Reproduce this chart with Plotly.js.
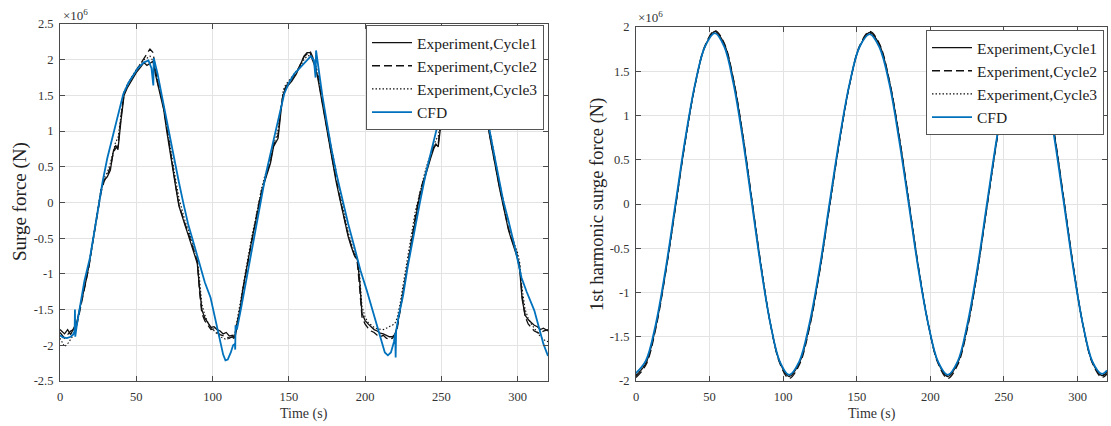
<!DOCTYPE html>
<html>
<head>
<meta charset="utf-8">
<script src="https://cdn.plot.ly/plotly-3.0.1.min.js"></script>
<style>html,body{margin:0;padding:0;background:#fff;}#chart{width:1111px;height:426px;}</style>
</head>
<body>
<div id="chart"></div>
<script>
// ---------- Left panel: surge force (x1e6 N) ----------
const expTime = [
  0,3,5,7,9,11,13,15,17,19,
  21,23,25,27,29,31,33,35,36.5,38,
  40,42,44,47,50,53,55,57,59,61,
  62.5,64,66,68,70,72,74,76,78,80,
  82,84,86,88,90,91.5,93,95,97,99,
  101,103,105,107,109,111,113,114.5,116,118,
  120,122,124,126,128,130,132,134,136,138,
  140,141.5,143,145,146.5,148,150,152,155,158,
  160,162,164,165.5,167,169,171,173,175,177,
  179,181,183,185,187,189,191,193,195,196.5,
  198,200,202,204,206,208,210,212,214,216,
  218,219.5,221,223,225,227,229,231,233,235,
  237,239,241,243,245,246.5,248,250,252,254,
  257,260,263,266,268,270,272,274,276,278,
  280,282,284,286,288,290,292,294,296,298,
  300,301.5,303,305,307,309,311,313,315,317,
  320
];
const expCycle1 = [
  -1.78,-1.84,-1.78,-1.85,-1.76,-1.68,-1.48,-1.3,-1.1,-0.88,
  -0.6,-0.35,-0.08,0.18,0.32,0.36,0.45,0.72,0.8,0.74,
  1.15,1.5,1.6,1.72,1.82,1.9,1.96,1.92,1.95,1.98,
  1.8,1.65,1.5,1.3,1.0,0.72,0.45,0.2,-0.05,-0.2,
  -0.32,-0.45,-0.58,-0.7,-0.85,-1.2,-1.5,-1.62,-1.68,-1.75,
  -1.74,-1.78,-1.8,-1.84,-1.82,-1.87,-1.86,-1.9,-1.7,-1.5,
  -1.2,-0.95,-0.7,-0.5,-0.3,-0.08,0.12,0.28,0.4,0.55,
  0.78,0.85,0.9,1.3,1.52,1.6,1.65,1.7,1.8,1.95,
  2.05,2.1,2.1,2.0,1.92,1.75,1.5,1.25,1.0,0.78,
  0.55,0.3,0.1,-0.1,-0.3,-0.48,-0.62,-0.74,-0.8,-1.1,
  -1.55,-1.65,-1.7,-1.74,-1.78,-1.8,-1.83,-1.84,-1.86,-1.88,
  -1.88,-1.85,-1.75,-1.5,-1.22,-0.95,-0.7,-0.45,-0.22,0.0,
  0.18,0.33,0.5,0.62,0.75,0.82,0.78,1.15,1.5,1.6,
  1.72,1.82,1.9,1.98,2.05,2.0,1.85,1.6,1.45,1.3,
  1.15,0.9,0.65,0.45,0.22,0.02,-0.2,-0.38,-0.52,-0.65,
  -0.78,-0.95,-1.35,-1.58,-1.64,-1.68,-1.72,-1.74,-1.78,-1.76,
  -1.8
];
const expCycle2 = [
  -1.82,-1.9,-1.85,-1.8,-1.78,-1.72,-1.52,-1.32,-1.12,-0.9,
  -0.62,-0.38,-0.1,0.15,0.3,0.38,0.5,0.7,0.76,0.78,
  1.2,1.52,1.62,1.75,1.85,1.95,2.02,2.08,2.15,2.1,
  1.85,1.68,1.52,1.32,1.05,0.75,0.48,0.22,-0.03,-0.18,
  -0.3,-0.42,-0.55,-0.68,-0.82,-1.25,-1.55,-1.66,-1.72,-1.78,
  -1.77,-1.82,-1.85,-1.86,-1.88,-1.9,-1.88,-1.92,-1.75,-1.52,
  -1.22,-0.98,-0.72,-0.5,-0.28,-0.05,0.15,0.3,0.42,0.58,
  0.8,0.88,0.95,1.35,1.55,1.62,1.68,1.72,1.82,1.95,
  2.04,2.08,2.12,2.05,1.95,1.78,1.52,1.28,1.02,0.8,
  0.56,0.32,0.12,-0.08,-0.28,-0.46,-0.6,-0.72,-0.85,-1.2,
  -1.6,-1.7,-1.76,-1.8,-1.82,-1.86,-1.88,-1.86,-1.9,-1.92,
  -1.9,-1.86,-1.78,-1.52,-1.25,-0.98,-0.72,-0.46,-0.2,0.03,
  0.22,0.36,0.52,0.64,0.78,0.8,0.82,1.2,1.52,1.62,
  1.75,1.85,1.95,2.05,2.1,2.05,1.88,1.62,1.48,1.32,
  1.18,0.92,0.68,0.46,0.24,0.04,-0.18,-0.36,-0.5,-0.62,
  -0.75,-0.9,-1.3,-1.6,-1.7,-1.75,-1.8,-1.82,-1.84,-1.8,
  -1.78
];
const expCycle3 = [
  -1.9,-2.02,-1.98,-1.92,-1.85,-1.7,-1.5,-1.28,-1.08,-0.85,
  -0.58,-0.32,-0.05,0.2,0.35,0.42,0.55,0.75,0.85,0.9,
  1.25,1.55,1.65,1.76,1.86,1.95,2.0,2.02,2.05,1.98,
  1.85,1.7,1.55,1.36,1.08,0.8,0.55,0.3,0.06,-0.12,
  -0.26,-0.38,-0.5,-0.62,-0.76,-1.08,-1.42,-1.58,-1.68,-1.75,
  -1.8,-1.84,-1.88,-1.9,-1.92,-1.9,-1.88,-1.85,-1.68,-1.45,
  -1.18,-0.92,-0.66,-0.45,-0.25,-0.02,0.18,0.35,0.48,0.62,
  0.82,0.9,1.02,1.38,1.58,1.65,1.7,1.75,1.84,1.92,
  2.0,2.05,2.06,2.02,1.98,1.82,1.6,1.35,1.1,0.88,
  0.64,0.4,0.18,-0.02,-0.22,-0.42,-0.58,-0.7,-0.78,-1.02,
  -1.45,-1.6,-1.68,-1.72,-1.75,-1.77,-1.78,-1.78,-1.76,-1.74,
  -1.72,-1.7,-1.62,-1.42,-1.15,-0.88,-0.6,-0.35,-0.12,0.05,
  0.24,0.4,0.55,0.68,0.8,0.88,0.92,1.25,1.55,1.65,
  1.76,1.86,1.94,2.0,2.04,2.02,1.9,1.72,1.55,1.4,
  1.25,1.0,0.75,0.52,0.3,0.1,-0.1,-0.3,-0.45,-0.58,
  -0.7,-0.85,-1.2,-1.5,-1.62,-1.7,-1.76,-1.82,-1.88,-1.92,
  -1.95
];
const cfdTime = [
  0,2,4.5,7,8.5,9.6,9.8,10.0,11,13,
  16,19.7,22,25,28,31,35,38,41.5,45,
  48,51,54.8,58,60,61.2,61.5,64,67,70.5,
  74.6,78,81,84,87,90,92,95,98.7,101,
  103,105,107,108.5,110,112,113.5,114.7,114.9,115.1,
  116,119,122,125,128,131.6,135,140,144,147,
  150,153.5,157,161,164.5,166.5,167.6,167.9,170,172,
  175,178,181.5,185.5,189,193,197,201,205,208,
  211,213,215,217,219,219.8,220.1,220.4,222,225,
  228,231,236,240,245,250,253,256,260,264,
  268,270,271,271.3,274,277,280,284,287,290.6,
  294,298,302.6,306,311,314,317,320
];
const cfdForce = [
  -1.86,-1.89,-1.9,-1.88,-1.85,-1.8,-1.5,-1.88,-1.72,-1.47,
  -1.1,-0.77,-0.48,-0.05,0.3,0.62,0.96,1.25,1.52,1.68,
  1.78,1.88,1.96,1.99,1.88,1.64,2.02,1.8,1.47,1.08,
  0.63,0.28,-0.02,-0.3,-0.52,-0.74,-0.91,-1.12,-1.33,-1.55,
  -1.75,-1.95,-2.13,-2.21,-2.2,-2.1,-2.0,-1.98,-2.06,-1.72,
  -1.78,-1.45,-1.1,-0.75,-0.4,0.0,0.4,0.87,1.25,1.52,
  1.67,1.8,1.88,1.97,2.05,1.99,1.75,2.13,1.8,1.5,
  1.12,0.75,0.38,0.0,-0.3,-0.62,-0.95,-1.22,-1.51,-1.75,
  -1.98,-2.1,-2.14,-2.1,-1.95,-1.83,-2.17,-1.8,-1.6,-1.3,
  -0.9,-0.55,0.0,0.42,0.87,1.3,1.55,1.68,1.8,1.9,
  2.0,2.02,1.75,2.1,1.75,1.45,1.2,0.75,0.42,0.03,
  -0.25,-0.6,-1.05,-1.25,-1.51,-1.75,-1.98,-2.15
];

// ---------- Right panel: 1st harmonic surge force (x1e6 N) ----------
const harmTime = [
  0,6.7,13.4,20.1,26.8,33.5,40.2,46.9,53.6,
  59.9,66.2,72.5,78.8,85.1,91.4,97.7,104,
  110.9,117.7,124.6,131.4,138.3,145.1,152,158.8,
  165.4,172.1,178.7,185.3,191.9,198.6,205.2,211.8,
  218.5,225.1,231.8,238.4,245.1,251.7,258.4,265,
  271.4,277.9,284.3,290.8,297.2,303.6,310.1,316.5,
  320
];
const harmCycle1 = [
  -1.94,-1.8,-1.39,-0.77,-0.03,0.72,1.35,1.78,1.95,
  1.81,1.4,0.78,0.03,-0.72,-1.36,-1.79,-1.95,
  -1.8,-1.39,-0.77,-0.03,0.72,1.35,1.78,1.94,
  1.8,1.39,0.77,0.03,-0.72,-1.36,-1.79,-1.95,
  -1.8,-1.39,-0.77,-0.03,0.72,1.35,1.78,1.95,
  1.81,1.4,0.78,0.03,-0.72,-1.36,-1.79,-1.94,
  -1.9
];
const harmCycle2 = [
  -1.96,-1.82,-1.41,-0.78,-0.04,0.71,1.35,1.79,1.96,
  1.82,1.41,0.79,0.04,-0.71,-1.36,-1.8,-1.97,
  -1.82,-1.41,-0.78,-0.04,0.71,1.35,1.79,1.95,
  1.81,1.4,0.78,0.04,-0.71,-1.36,-1.8,-1.97,
  -1.82,-1.41,-0.78,-0.04,0.71,1.35,1.79,1.96,
  1.82,1.41,0.79,0.04,-0.71,-1.36,-1.8,-1.96,
  -1.92
];
const harmCycle3 = [
  -1.93,-1.79,-1.38,-0.76,-0.02,0.73,1.36,1.78,1.94,
  1.8,1.39,0.77,0.02,-0.73,-1.36,-1.78,-1.94,
  -1.79,-1.38,-0.76,-0.02,0.73,1.36,1.78,1.93,
  1.79,1.38,0.76,0.02,-0.73,-1.36,-1.78,-1.94,
  -1.79,-1.38,-0.76,-0.02,0.73,1.36,1.78,1.94,
  1.8,1.39,0.77,0.02,-0.73,-1.36,-1.78,-1.93,
  -1.89
];
const harmCFD = [
  -1.91,-1.77,-1.36,-0.74,0,0.74,1.36,1.78,1.93,
  1.78,1.36,0.74,0,-0.74,-1.36,-1.78,-1.93,
  -1.78,-1.36,-0.74,0,0.74,1.36,1.78,1.92,
  1.77,1.36,0.73,0,-0.74,-1.36,-1.78,-1.93,
  -1.78,-1.36,-0.74,0,0.74,1.36,1.78,1.93,
  1.78,1.36,0.74,0,-0.74,-1.36,-1.78,-1.92,
  -1.88
];

// ---------- Ticks and labels ----------
const xTickVals = [0,50,100,150,200,250,300];
const xTickText = ['0','50','100','150','200','250','300'];
const leftYTickVals = [-2.5,-2,-1.5,-1,-0.5,0,0.5,1,1.5,2,2.5];
const leftYTickText = ['-2.5','-2','-1.5','-1','-0.5','0','0.5','1','1.5','2','2.5'];
const rightYTickVals = [-2,-1.5,-1,-0.5,0,0.5,1,1.5,2];
const rightYTickText = ['-2','-1.5','-1','-0.5','0','0.5','1','1.5','2'];
const seriesNames = ['Experiment,Cycle1','Experiment,Cycle2','Experiment,Cycle3','CFD'];

const SERIF = 'Liberation Serif, Times New Roman, serif';
const BLUE = '#0072BD';
const styles = [
  {color:'#111', width:1.3, dash:'solid'},
  {color:'#111', width:1.3, dash:'8px,4px'},
  {color:'#111', width:1.1, dash:'1.5px,2px'},
  {color:BLUE, width:1.8, dash:'solid'}
];

function mk(x, y, i, xa, ya, lg, shape) {
  return {x:x, y:y, type:'scatter', mode:'lines', name:seriesNames[i],
    xaxis:xa, yaxis:ya, legend:lg,
    line:{color:styles[i].color, width:styles[i].width, dash:styles[i].dash, shape:shape||'linear', smoothing:1}};
}

const traces = [
  mk(expTime, expCycle1, 0, 'x', 'y', 'legend'),
  mk(expTime, expCycle2, 1, 'x', 'y', 'legend'),
  mk(expTime, expCycle3, 2, 'x', 'y', 'legend'),
  mk(cfdTime, cfdForce, 3, 'x', 'y', 'legend'),
  mk(harmTime, harmCycle1, 0, 'x2', 'y2', 'legend2', 'spline'),
  mk(harmTime, harmCycle2, 1, 'x2', 'y2', 'legend2', 'spline'),
  mk(harmTime, harmCycle3, 2, 'x2', 'y2', 'legend2', 'spline'),
  mk(harmTime, harmCFD, 3, 'x2', 'y2', 'legend2', 'spline')
];

const W = 1111, H = 426;
const axBase = {
  showline:true, mirror:'ticks', linecolor:'#4a4a4a', linewidth:1,
  ticks:'inside', ticklen:5, tickcolor:'#4a4a4a', tickwidth:1,
  showgrid:true, gridcolor:'#e3e3e3', gridwidth:1, zeroline:false,
  tickfont:{family:SERIF, size:12.5, color:'#333'}, tickmode:'array',
  fixedrange:true
};
function ax(extra){ return Object.assign({}, axBase, extra); }

const legBase = {
  xanchor:'left', yanchor:'top', bgcolor:'#ffffff', bordercolor:'#555', borderwidth:1,
  font:{family:SERIF, size:15.5, color:'#222'}, tracegroupgap:0, itemwidth:40
};

const layout = {
  width:W, height:H, margin:{l:0,r:0,t:0,b:0},
  paper_bgcolor:'#fff', plot_bgcolor:'#fff', showlegend:true,
  xaxis: ax({domain:[60/W, 548/W], range:[0,320], anchor:'y', tickvals:xTickVals, ticktext:xTickText, ticklabelstandoff:4}),
  yaxis: ax({domain:[1-381/H, 1-24/H], range:[-2.5,2.5], anchor:'x', tickvals:leftYTickVals, ticktext:leftYTickText, ticklabelstandoff:3}),
  xaxis2: ax({domain:[636/W, 1107/W], range:[0,320], anchor:'y2', tickvals:xTickVals, ticktext:xTickText, ticklabelstandoff:4}),
  yaxis2: ax({domain:[1-381/H, 1-27/H], range:[-2,2], anchor:'x2', tickvals:rightYTickVals, ticktext:rightYTickText, ticklabelstandoff:3}),
  legend: Object.assign({}, legBase, {x:366/W, y:1-25/H}),
  legend2: Object.assign({}, legBase, {x:926/W, y:1-30/H}),
  annotations:[
    {xref:'paper', yref:'paper', x:61/W, y:1-15/H, xanchor:'left', yanchor:'middle', showarrow:false,
     text:'×10<sup>6</sup>', font:{family:SERIF, size:13, color:'#333'}},
    {xref:'paper', yref:'paper', x:636/W, y:1-17/H, xanchor:'left', yanchor:'middle', showarrow:false,
     text:'×10<sup>6</sup>', font:{family:SERIF, size:13, color:'#333'}},
    {xref:'paper', yref:'paper', x:20/W, y:1-202/H, xanchor:'center', yanchor:'middle', showarrow:false,
     textangle:-90, text:'Surge force (N)', font:{family:SERIF, size:19, color:'#222'}},
    {xref:'paper', yref:'paper', x:598/W, y:1-205/H, xanchor:'center', yanchor:'middle', showarrow:false,
     textangle:-90, text:'1st harmonic surge force (N)', font:{family:SERIF, size:18.5, color:'#222'}},
    {xref:'paper', yref:'paper', x:304/W, y:1-414/H, xanchor:'center', yanchor:'middle', showarrow:false,
     text:'Time (s)', font:{family:SERIF, size:14, color:'#333'}},
    {xref:'paper', yref:'paper', x:871.5/W, y:1-414/H, xanchor:'center', yanchor:'middle', showarrow:false,
     text:'Time (s)', font:{family:SERIF, size:14, color:'#333'}}
  ]
};

Plotly.newPlot('chart', traces, layout, {staticPlot:true, displayModeBar:false, responsive:false});
</script>
</body>
</html>
